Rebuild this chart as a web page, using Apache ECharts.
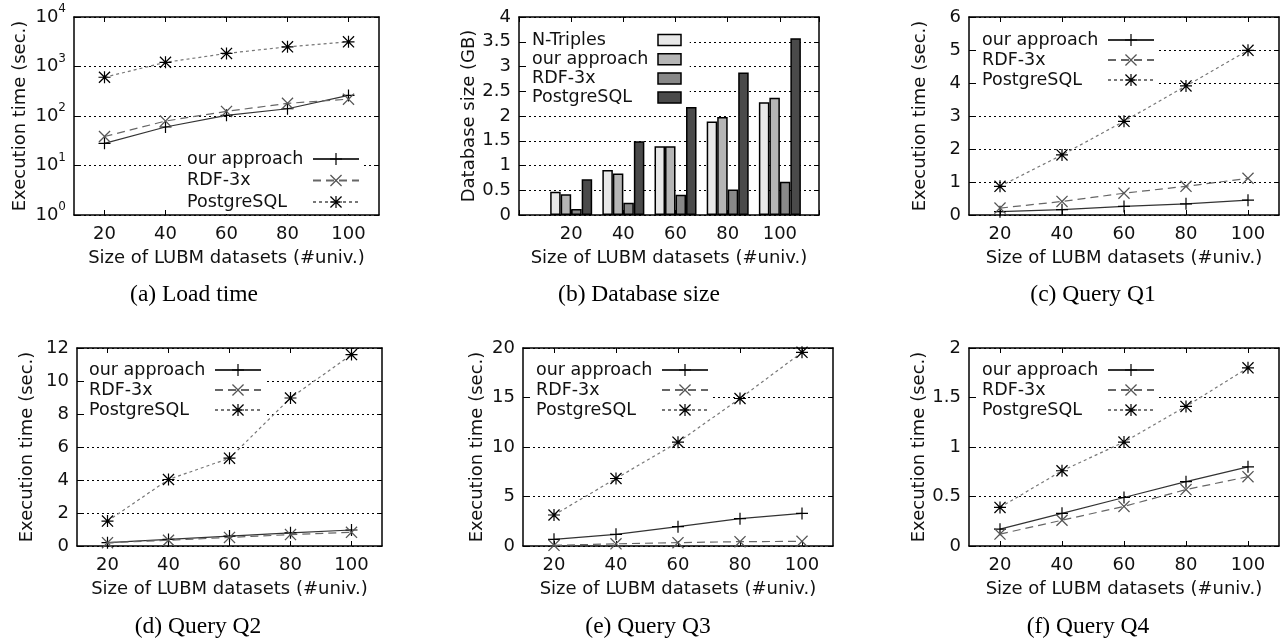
<!DOCTYPE html>
<html><head><meta charset="utf-8">
<script src="https://cdn.jsdelivr.net/npm/echarts@6/dist/echarts.min.js"></script>
<style>html,body{margin:0;padding:0;background:#fff}#c{width:1282px;height:643px}</style>
</head><body><div id="c"></div>
<script>
// ---------- data ----------
const sizeLabels = ['20', '40', '60', '80', '100'];
const sizeValues = [20, 40, 60, 80, 100];
const lineNames = ['our approach', 'RDF-3x', 'PostgreSQL'];
const barNames = ['N-Triples', 'our approach', 'RDF-3x', 'PostgreSQL'];
// (a) load time (sec., log scale)
const loadOur = [28, 60, 103, 140, 260];
const loadRdf = [38.5, 79, 124, 180, 219];
const loadPg = [606, 1213, 1837, 2500, 3150];
// (b) database size (GB)
const dbNTriples = [0.47, 0.91, 1.39, 1.89, 2.28];
const dbOur = [0.42, 0.84, 1.39, 1.98, 2.37];
const dbRdf = [0.12, 0.25, 0.41, 0.515, 0.67];
const dbPg = [0.72, 1.49, 2.18, 2.88, 3.57];
// (c) Q1
const q1Our = [0.1, 0.16, 0.26, 0.34, 0.45];
const q1Rdf = [0.21, 0.41, 0.66, 0.87, 1.11];
const q1Pg = [0.87, 1.82, 2.84, 3.91, 4.99];
// (d) Q2
const q2Our = [0.2, 0.4, 0.6, 0.8, 0.97];
const q2Rdf = [0.2, 0.35, 0.52, 0.69, 0.83];
const q2Pg = [1.51, 4.03, 5.32, 8.97, 11.6];
// (e) Q3
const q3Our = [0.67, 1.18, 1.95, 2.76, 3.29];
const q3Rdf = [0.07, 0.22, 0.34, 0.44, 0.47];
const q3Pg = [3.13, 6.82, 10.49, 14.9, 19.56];
// (f) Q4
const q4Our = [0.17, 0.33, 0.49, 0.65, 0.8];
const q4Rdf = [0.12, 0.26, 0.4, 0.57, 0.7];
const q4Pg = [0.39, 0.76, 1.05, 1.41, 1.8];
// captions / axis names
const captions = ['(a) Load time', '(b) Database size', '(c) Query Q1', '(d) Query Q2', '(e) Query Q3', '(f) Query Q4'];
const xName = 'Size of LUBM datasets (#univ.)';
const yNames = ['Execution time (sec.)', 'Database size (GB)', 'Execution time (sec.)', 'Execution time (sec.)', 'Execution time (sec.)', 'Execution time (sec.)'];

// ---------- styles ----------
const FONT = '"DejaVu Sans", sans-serif';
const TXT = '#111';
const FS = 18;
const LFS = 17.5;
const PLUS = 'path://M9,0H11V9H20V11H11V20H9V11H0V9H9Z';
const CROSS = 'path://M1.5,0L10,8.5L18.5,0L20,1.5L11.5,10L20,18.5L18.5,20L10,11.5L1.5,20L0,18.5L8.5,10L0,1.5Z';
const ASTER = 'path://M9,0H11V9H20V11H11V20H9V11H0V9H9Z M1.5,0L10,8.5L18.5,0L20,1.5L11.5,10L20,18.5L18.5,20L10,11.5L1.5,20L0,18.5L8.5,10L0,1.5Z';
const lineLook = [
  { symbol: PLUS, color: '#000', line: { color: '#333', width: 1.2, type: 'solid' } },
  { symbol: CROSS, color: '#555', line: { color: '#666', width: 1.2, type: [8, 5] } },
  { symbol: ASTER, color: '#000', line: { color: '#777', width: 1.2, type: [3, 3] } }
];
const barColors = ['#e8e8e8', '#b5b5b5', '#888888', '#4a4a4a'];

const panels = [
  { kind: 'line', data: [loadOur, loadRdf, loadPg], y: { type: 'log', logBase: 10, min: 1, max: 10000 },
    grid: { left: 74, top: 17, width: 305, height: 198 }, nameGap: 45, legend: { left: 183, top: 147, gap: 3.5 }, cap: [194, 283] },
  { kind: 'bar', data: [dbNTriples, dbOur, dbRdf, dbPg], y: { type: 'value', min: 0, max: 4, interval: 0.5 },
    grid: { left: 519, top: 17, width: 300, height: 198 }, nameGap: 40, legend: { left: 528, top: 28, gap: 1.2 }, cap: [639, 283] },
  { kind: 'line', data: [q1Our, q1Rdf, q1Pg], y: { type: 'value', min: 0, max: 6, interval: 1 },
    grid: { left: 969, top: 17, width: 310, height: 198 }, nameGap: 40, legend: { left: 978, top: 28, gap: 2 }, cap: [1093, 283] },
  { kind: 'line', data: [q2Our, q2Rdf, q2Pg], y: { type: 'value', min: 0, max: 12, interval: 2 },
    grid: { left: 77, top: 348, width: 305, height: 198 }, nameGap: 41, legend: { left: 85, top: 358, gap: 2 }, cap: [198, 615] },
  { kind: 'line', data: [q3Our, q3Rdf, q3Pg], y: { type: 'value', min: 0, max: 20, interval: 5 },
    grid: { left: 523, top: 348, width: 310, height: 198 }, nameGap: 37, legend: { left: 532, top: 358, gap: 2 }, cap: [648, 615] },
  { kind: 'line', data: [q4Our, q4Rdf, q4Pg], y: { type: 'value', min: 0, max: 2, interval: 0.5 },
    grid: { left: 969, top: 348, width: 310, height: 198 }, nameGap: 40, legend: { left: 978, top: 358, gap: 2 }, cap: [1088, 615] }
];

const axisLine = { show: true, onZero: false, lineStyle: { color: '#000', width: 1.5 } };
const tickIn = { show: true, inside: true, length: 5, lineStyle: { color: '#000', width: 1 } };
const labelStyle = { color: TXT, fontFamily: FONT, fontSize: FS };

const grids = [], xAxes = [], yAxes = [], series = [], legends = [], titles = [];
panels.forEach((p, i) => {
  const key = 'abcdef'[i];
  grids.push(Object.assign({ outerBoundsMode: 'none', containLabel: false }, p.grid));
  const xBase = p.kind === 'bar'
    ? { type: 'value', min: 0, max: 115, interval: 20 }
    : { type: 'category', data: sizeLabels, boundaryGap: true };
  xAxes.push(Object.assign({}, xBase, {
    gridIndex: i, position: 'bottom', axisLine,
    axisTick: Object.assign({ alignWithLabel: true }, tickIn),
    axisLabel: Object.assign({ margin: 10, showMaxLabel: true,
      formatter: v => (sizeValues.indexOf(Number(v)) >= 0 ? String(v) : '') }, labelStyle),
    splitLine: { show: false },
    name: xName, nameLocation: 'middle', nameGap: 34, nameTextStyle: labelStyle
  }));
  xAxes.push(Object.assign({}, xBase, {
    gridIndex: i, position: 'top', axisLine,
    axisTick: Object.assign({ alignWithLabel: true }, tickIn),
    axisLabel: { show: false }, splitLine: { show: false }
  }));
  const yLabel = p.y.type === 'log'
    ? Object.assign({ margin: 8, formatter: v => '{b|10}{s|' + Math.round(Math.log10(v)) + '}',
        rich: { b: { fontFamily: FONT, fontSize: FS, color: TXT, lineHeight: 28 },
                s: { fontFamily: FONT, fontSize: 12, color: TXT, verticalAlign: 'top' } } }, labelStyle)
    : Object.assign({ margin: 8 }, labelStyle);
  yAxes.push(Object.assign({}, p.y, {
    gridIndex: i, position: 'left', axisLine, axisTick: tickIn, axisLabel: yLabel,
    splitLine: { show: true, lineStyle: { color: '#000', width: 1, type: [2, 3] } },
    name: yNames[i], nameLocation: 'middle', nameGap: p.nameGap, nameTextStyle: labelStyle
  }));
  yAxes.push(Object.assign({}, p.y, {
    gridIndex: i, position: 'right', axisLine, axisTick: tickIn,
    axisLabel: { show: false }, splitLine: { show: false }
  }));
  const legendData = [];
  if (p.kind === 'line') {
    p.data.forEach((vals, k) => {
      const nm = lineNames[k] + '#' + key;
      legendData.push(nm);
      series.push({
        type: 'line', name: nm, xAxisIndex: 2 * i, yAxisIndex: 2 * i,
        data: vals, symbol: lineLook[k].symbol, symbolSize: 12,
        itemStyle: { color: lineLook[k].color, borderWidth: 0 },
        lineStyle: lineLook[k].line, z: 3 + k
      });
    });
  } else {
    p.data.forEach((vals, k) => {
      const nm = barNames[k] + '#' + key;
      legendData.push(nm);
      series.push({
        type: 'bar', name: nm, xAxisIndex: 2 * i, yAxisIndex: 2 * i,
        data: vals.map((v, j) => [sizeValues[j], v]),
        barWidth: 10.5, barGap: '0%', z: 3,
        itemStyle: { color: barColors[k], borderColor: '#000', borderWidth: 1.5 }
      });
    });
  }
  const isBar = p.kind === 'bar';
  legends.push({
    data: legendData, orient: 'vertical', align: 'right',
    left: p.legend.left, top: p.legend.top, itemGap: p.legend.gap,
    itemWidth: isBar ? 23 : 46, itemHeight: isBar ? 11 : 15,
    icon: isBar ? 'rect' : undefined,
    backgroundColor: '#fff', padding: isBar ? [3, 8, 1, 4] : [3, 4, 3, 4],
    selectedMode: false,
    itemStyle: isBar ? { borderColor: '#000', borderWidth: 1.5 } : { borderWidth: 0 },
    formatter: n => '{t|' + n.split('#')[0] + '}',
    textStyle: { color: TXT, fontFamily: FONT, fontSize: LFS,
      rich: { t: { width: 121, align: 'left', fontFamily: FONT, fontSize: LFS, color: TXT } } },
    z: 1
  });
  titles.push({
    text: captions[i], left: p.cap[0], top: p.cap[1], textAlign: 'center', padding: 0,
    textStyle: { fontFamily: '"Liberation Serif", serif', fontSize: 23.5, fontWeight: 'normal', color: '#000' }
  });
});

const chart = echarts.init(document.getElementById('c'), null, { renderer: 'canvas' });
chart.setOption({
  animation: false,
  backgroundColor: '#fff',
  title: titles,
  grid: grids,
  xAxis: xAxes,
  yAxis: yAxes,
  legend: legends,
  series: series
});
</script>
</body></html>
